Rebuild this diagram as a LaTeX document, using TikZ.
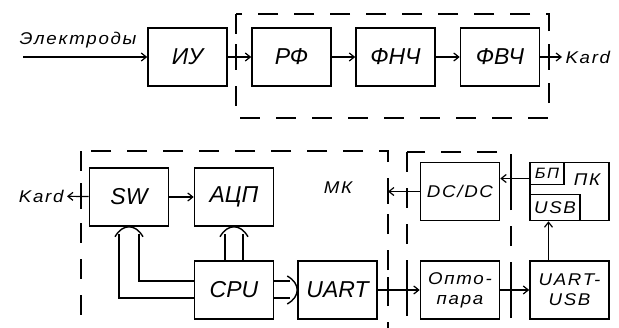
\documentclass[tikz,border=0pt]{standalone}
\usepackage{fontspec}
\setmainfont{Liberation Sans}
\newfontfamily\smallfam{Liberation Sans}[FakeStretch=1.1,LetterSpace=10]
\usetikzlibrary{arrows.meta}
\tikzset{
	blk/.style = {draw, line width=1.6pt, minimum width=79pt, minimum height=58pt, inner sep=0pt, align=center, font=\fontsize{23}{25}\selectfont\itshape},
	sm/.style = {font=\smallfam\fontsize{17}{20}\selectfont\itshape},
	arr/.style = {line width=1.2pt, -{Straight Barb[length=5pt,width=8pt]}},
	frame/.style = {line width=1.6pt, dash pattern=on 20pt off 16pt},
	tick/.style = {line width=1.6pt},
	bus/.style = {line width=1.4pt},
	bustip/.pic = {\draw[bus] (-14,10) .. controls (-10,3) and (-5,0) .. (0,0) .. controls (5,0) and (10,3) .. (14,10);}
}
\begin{document}
\begin{tikzpicture}[x=1pt,y=-1pt]
	\clip (0,0) rectangle (619,327);
	% top row
	\node [blk] (iu) at (187.5,57) {ИУ};
	\node [blk] (rf) at (291.5,57) {РФ};
	\node [blk] (fnch) at (395.5,57) {ФНЧ};
	\node [blk] (fvch) at (500,57) {ФВЧ};
	\coordinate (elStart) at (23,57);
	\node [sm] (el) at (78,40) {Электроды};
	\node [sm, anchor=west] (kardTop) at (562,57) {Kard};
	\draw [arr] (elStart) -- (iu);
	\draw [arr] (iu) -- (rf);
	\draw [arr] (rf) -- (fnch);
	\draw [arr] (fnch) -- (fvch);
	\draw [arr] (fvch) -- (kardTop);
	\draw [frame] (236,14) rectangle (549,118);
	\draw [tick] (236,44) -- (236,70);
	\draw [tick] (549,44) -- (549,70);
	% bottom row
	\node [blk] (sw) at (129,197) {SW};
	\node [blk] (adc) at (234,197) {АЦП};
	\node [blk] (cpu) at (234,290) {CPU};
	\node [blk] (uart) at (337.5,290) {UART};
	\node [blk, sm] (dcdc) at (460,191.5) {DC/DC};
	\node [blk, sm] (opto) at (460,290) {Опто-\\пара};
	\node [blk, sm] (uartusb) at (569.5,290) {UART-\\USB};
	\node [blk] (pk) at (569.5,191.5) {};
	\node [draw, line width=1.6pt, anchor=north west, minimum width=34pt, minimum height=22pt, inner sep=0pt, sm, font=\smallfam\fontsize{15}{17}\selectfont\itshape] (bp) at (pk.north west) {БП};
	\node [draw, line width=1.6pt, anchor=south west, minimum width=50pt, minimum height=26pt, inner sep=0pt, sm] (usb) at (pk.south west) {USB};
	\node [sm] (pkLabel) at (587,180) {ПК};
	\node [sm] (mk) at (338,188) {МК};
	\node [sm, anchor=east] (kardBot) at (67,196) {Kard};
	\coordinate (mkEdge) at (388,191.5);
	\draw [arr] (sw) -- (kardBot);
	\draw [arr] (sw) -- (adc);
	\draw [arr] (dcdc) -- (mkEdge);
	\draw [arr] ([yshift=13pt]pk.west) -- ([yshift=13pt]pk.west -| dcdc.east);
	\draw [arr] ([xshift=-21pt]uartusb.north) -- ([xshift=-21pt]uartusb.north |- usb.south);
	\draw [arr] (uart) -- (opto);
	\draw [arr] (opto) -- (uartusb);
	% buses
	\draw [bus] ([yshift=-8pt]cpu.west) -| ([xshift=-10pt,yshift=-7pt]sw.south);
	\draw [bus] ([yshift=9pt]cpu.west) -| ([xshift=10pt,yshift=-7pt]sw.south);
	\pic at (sw.south) {bustip};
	\draw [bus] ([xshift=-9pt]cpu.north) -- ([xshift=-9pt,yshift=-7pt]adc.south);
	\draw [bus] ([xshift=9pt]cpu.north) -- ([xshift=9pt,yshift=-7pt]adc.south);
	\pic at (adc.south) {bustip};
	\draw [bus] ([yshift=9pt]cpu.east) -- ([yshift=9pt,xshift=-7pt]uart.west);
	\draw [bus] ([yshift=-8pt]cpu.east) -- ([yshift=-8pt,xshift=-7pt]uart.west);
	\pic [rotate=-90] at (uart.west) {bustip};
	% frames
	\draw [frame] (81,151) rectangle (388,345);
	\draw [frame] (407,152) rectangle (511,345);
	\draw [tick] (81,183) -- (81,209);
	\draw [tick] (388,178) -- (388,204);
	\draw [tick] (388,277) -- (388,303);
	\draw [tick] (407,277) -- (407,303);
	\draw [tick] (511,166) -- (511,192);
	\draw [tick] (511,277) -- (511,303);
\end{tikzpicture}
\end{document}
